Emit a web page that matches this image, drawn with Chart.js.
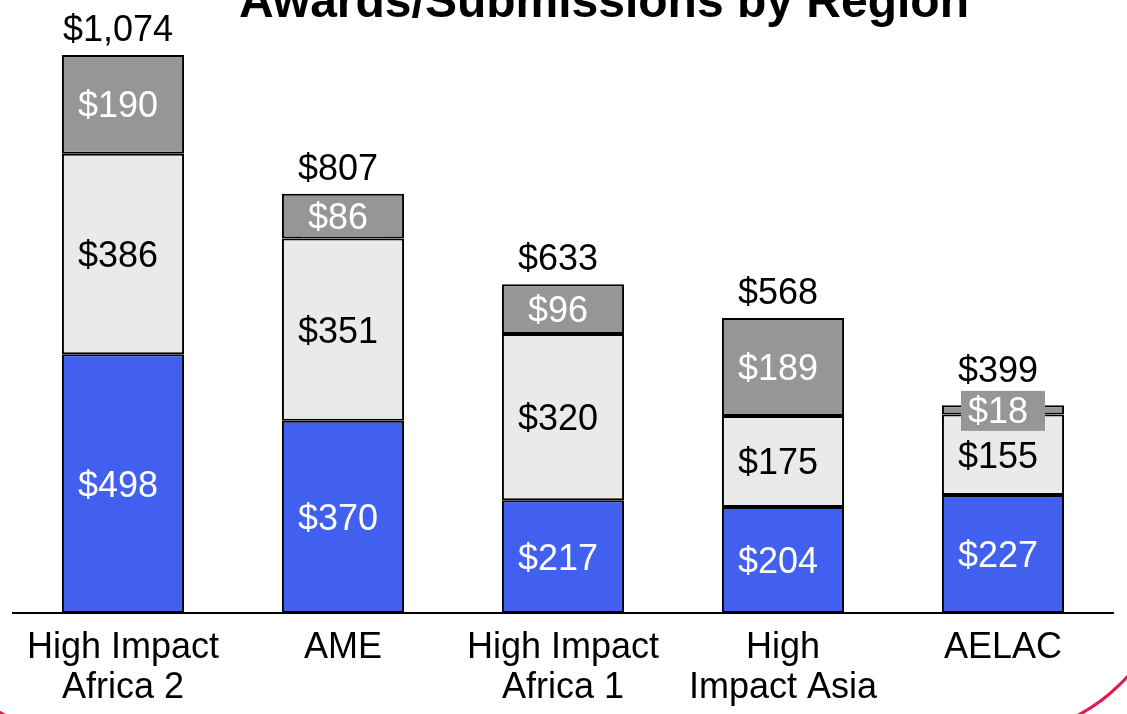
<!DOCTYPE html>
<html>
<head>
<meta charset="utf-8">
<script src="https://cdn.jsdelivr.net/npm/chart.js@4.4.1/dist/chart.umd.min.js"></script>
<style>
  html, body { margin: 0; padding: 0; background: #fff; overflow: hidden; }
  #wrap { position: relative; width: 1127px; height: 714px; overflow: hidden; }
  #cornice {
    position: absolute; left: -92px; top: -64px; width: 1267px; height: 802px;
    border: 3px solid #e8174a; border-radius: 182px; box-sizing: border-box;
  }
  #titolo {
    position: absolute; left: 0; width: 1208px; top: -23px; text-align: center;
    font: bold 48px "Liberation Sans", Arial, sans-serif; line-height: 48px; color: #000;
  }
  canvas { position: absolute; left: 0; top: 0; }
</style>
</head>
<body>
<div id="wrap">
  <div id="cornice"></div>
  <canvas id="grafico" width="1127" height="714"></canvas>
  <div id="titolo">Awards/Submissions by Region</div>
</div>
<script>
// Dati
const regioni = [['High Impact', 'Africa 2'], ['AME'], ['High Impact', 'Africa 1'], ['High', 'Impact Asia'], ['AELAC']];
const serieBlu = [498, 370, 217, 204, 227];
const serieGrigioChiaro = [386, 351, 320, 175, 155];
const serieGrigioScuro = [190, 86, 96, 189, 18];
const totali = [1074, 807, 633, 568, 399];

const FONT = '"Liberation Sans", Arial, sans-serif';

// Formatta come $1,074
function dollari(v) {
    return '$' + v.toLocaleString('en-US');
}

// Plugin per le etichette dentro i segmenti e i totali sopra le barre
const etichette = {
    id: 'etichette',
    afterDatasetsDraw(chart) {
        const ctx = chart.ctx;
        const sopraBox = []; // bordo superiore del riquadro dell'etichetta in cima
        ctx.save();
        ctx.font = '36px ' + FONT;
        ctx.textAlign = 'center';
        ctx.textBaseline = 'middle';
        chart.data.datasets.forEach((ds, i) => {
            const meta = chart.getDatasetMeta(i);
            meta.data.forEach((bar, j) => {
                const y = (bar.y + bar.base) / 2 + 2;
                if (ds.sfondoEtichetta) {
                    ctx.fillStyle = ds.backgroundColor;
                    ctx.fillRect(bar.x - 42, y - 21, 84, 40);
                    sopraBox[j] = y - 21;
                }
                ctx.fillStyle = ds.coloreEtichetta;
                ctx.fillText(dollari(ds.data[j]), bar.x - 5, y + 1);
            });
        });
        // Totali sopra la pila
        const ultimo = chart.getDatasetMeta(chart.data.datasets.length - 1);
        ctx.fillStyle = '#000';
        ultimo.data.forEach((bar, j) => {
            const y = Math.min(bar.y - 24, sopraBox[j] - 19);
            ctx.fillText(dollari(totali[j]), bar.x - 5, y);
        });
        ctx.restore();
    }
};

const ctx = document.getElementById('grafico').getContext('2d');
new Chart(ctx, {
    type: 'bar',
    data: {
        labels: regioni,
        datasets: [
            { data: serieBlu, backgroundColor: '#4160f0', coloreEtichetta: '#fff' },
            { data: serieGrigioChiaro, backgroundColor: '#eaeaea', coloreEtichetta: '#000' },
            { data: serieGrigioScuro, backgroundColor: '#969696', coloreEtichetta: '#fff', sfondoEtichetta: true }
        ].map(d => Object.assign(d, {
            borderColor: '#000',
            borderWidth: 2,
            borderSkipped: false,
            categoryPercentage: 1,
            barPercentage: 0.555
        }))
    },
    options: {
        responsive: false,
        animation: false,
        layout: { padding: { left: 13, right: 14, top: 0, bottom: 0 } },
        plugins: {
            legend: { display: false },
            tooltip: { enabled: false }
        },
        scales: {
            x: {
                stacked: true,
                grid: { display: false },
                border: { display: true, color: '#000', width: 2 },
                ticks: {
                    color: '#000',
                    padding: 7,
                    maxRotation: 0,
                    autoSkip: false,
                    font: { family: FONT, size: 36, lineHeight: 1.11 }
                },
                afterFit(scale) { scale.height = 101; }
            },
            y: {
                stacked: true,
                display: false,
                min: 0,
                max: 1180
            }
        }
    },
    plugins: [etichette]
});
</script>
</body>
</html>
